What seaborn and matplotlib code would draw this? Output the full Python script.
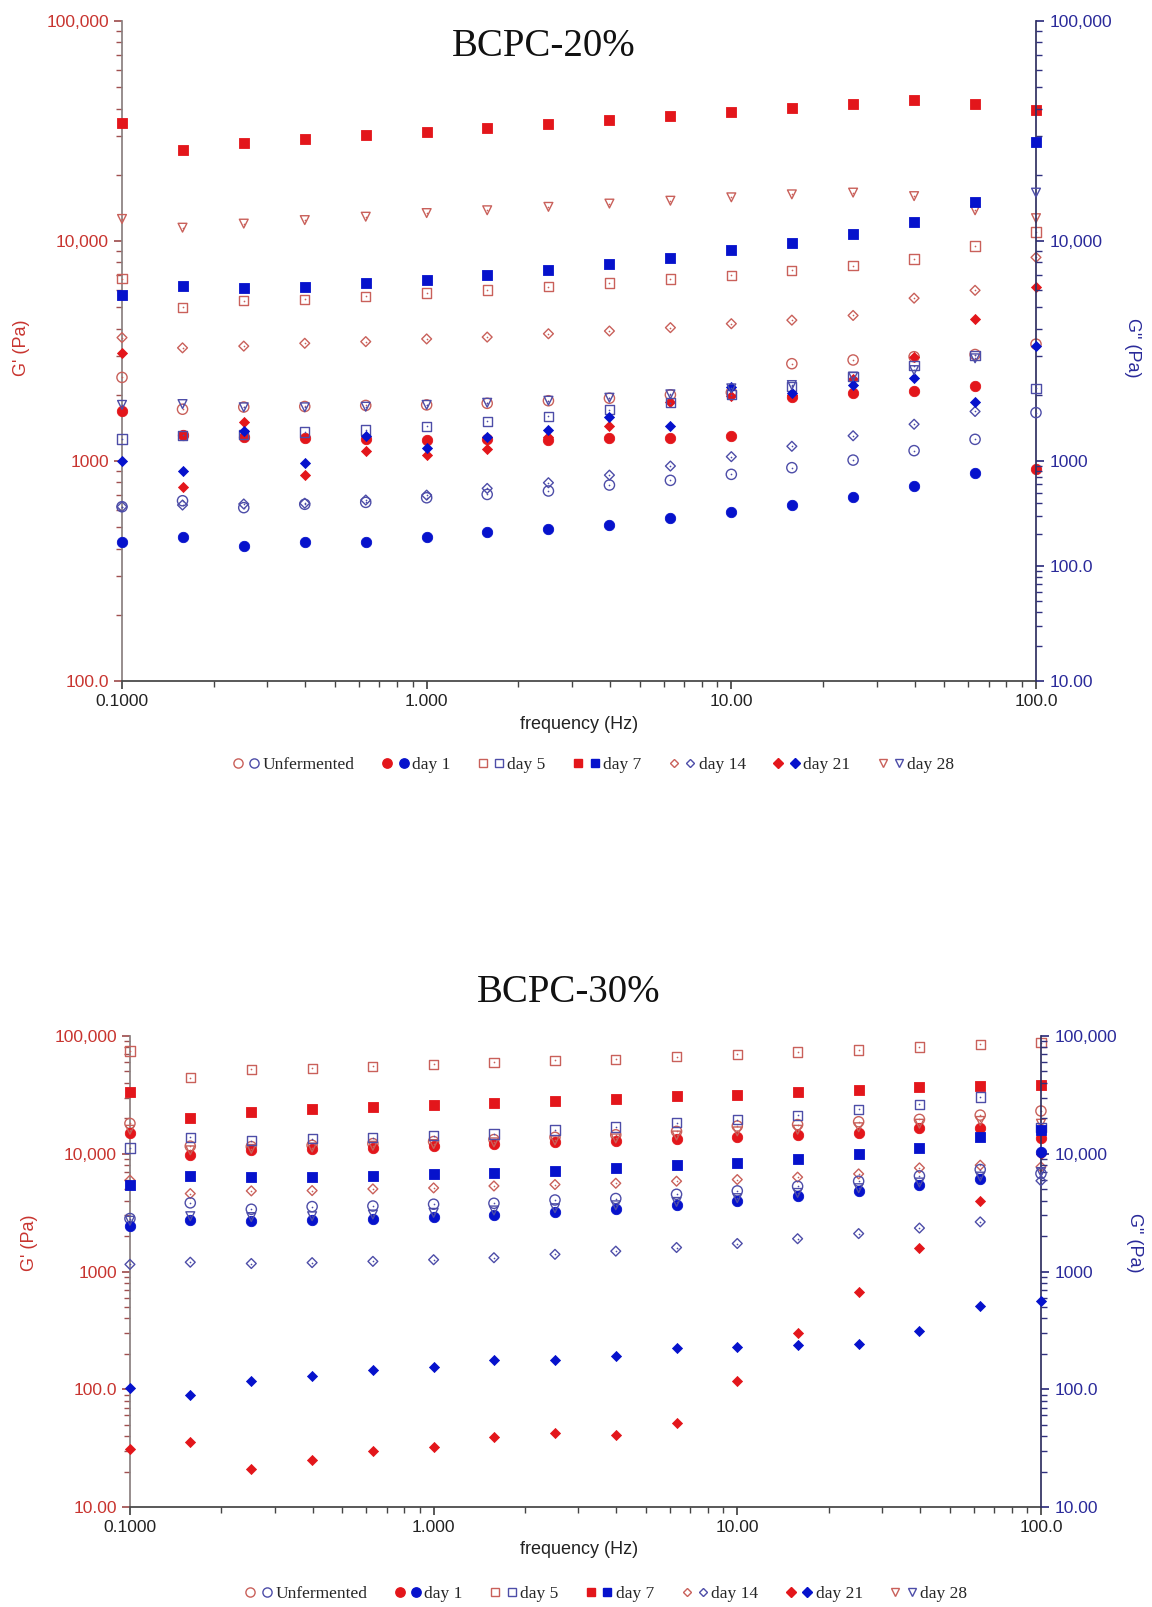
import numpy as np
import pandas as pd
import matplotlib
matplotlib.use("Agg")
import matplotlib.pyplot as plt
import seaborn as sns
from matplotlib.lines import Line2D
from matplotlib.legend_handler import HandlerTuple
from matplotlib.ticker import FixedLocator, NullFormatter, LogLocator

sns.set_theme(style="white")
plt.rcParams['font.family'] = ['Liberation Sans', 'DejaVu Sans']

nan = np.nan
FREQ = [0.1, 0.158, 0.251, 0.398, 0.631, 1.0, 1.58, 2.51, 3.98, 6.31,
        10.0, 15.8, 25.1, 39.8, 63.1, 100.0]
SERIES = ["Unfermented", "day 1", "day 5", "day 7", "day 14", "day 21", "day 28"]

# ---- BCPC-20% : G' (left axis, red) ----
top_g1_unf = [2400, 1720, 1760, 1770, 1790, 1800, 1830, 1880, 1930, 2000, 2050, 2770, 2880, 2980, 3050, 3400]
top_g1_d1 = [1690, 1310, 1280, 1270, 1255, 1245, 1255, 1245, 1270, 1270, 1300, 1960, 2030, 2090, 2190, 920]
top_g1_d5 = [6740, 4990, 5350, 5430, 5620, 5800, 5990, 6200, 6440, 6720, 7000, 7360, 7720, 8280, 9490, 11000]
top_g1_d7 = [34400, 25900, 27800, 29000, 30200, 31400, 32700, 34100, 35500, 37000, 38600, 40400, 42100, 43900, 42100, 39500]
top_g1_d14 = [3640, 3270, 3330, 3430, 3490, 3590, 3660, 3790, 3900, 4040, 4210, 4370, 4590, 5500, 5970, 8430]
top_g1_d21 = [3100, 762, 1500, 861, 1115, 1065, 1130, 1280, 1450, 1850, 1970, 2000, 2350, 2980, 4400, 6160]
top_g1_d28 = [12600, 11500, 12000, 12450, 12900, 13400, 13800, 14300, 14800, 15250, 15800, 16300, 16600, 16000, 13800, 12700]

# ---- BCPC-20% : G'' (right axis, blue; read in axis position units) ----
top_g2_unf = [620, 660, 614, 636, 649, 681, 705, 731, 778, 817, 870, 933, 1010, 1115, 1255, 1660]
top_g2_d1 = [427, 451, 412, 428, 428, 453, 475, 492, 513, 550, 585, 629, 686, 767, 885, nan]
top_g2_d5 = [1260, 1310, 1320, 1355, 1385, 1440, 1515, 1600, 1710, 1840, 2000, 2190, 2420, 2710, 3030, 2140]
top_g2_d7 = [5700, 6270, 6130, 6200, 6420, 6650, 7000, 7360, 7830, 8400, 9100, 9820, 10800, 12150, 15100, 28100]
top_g2_d14 = [620, 631, 638, 643, 665, 700, 751, 797, 863, 949, 1047, 1167, 1303, 1470, 1680, nan]
top_g2_d21 = [1000, 904, 1375, 977, 1300, 1150, 1290, 1390, 1590, 1440, 2160, 2030, 2215, 2380, 1850, 3330]
top_g2_d28 = [1800, 1815, 1755, 1755, 1766, 1800, 1840, 1880, 1940, 2010, 2140, 2215, 2420, 2590, 2930, 16600]

# ---- BCPC-30% : G' ----
bot_g1_unf = [18100, 11600, 11500, 11800, 12200, 12700, 13200, 13800, 14500, 15500, 17200, 17700, 18700, 19600, 21300, 23100]
bot_g1_d1 = [14900, 9860, 10700, 10900, 11300, 11700, 12000, 12500, 12800, 13400, 13900, 14400, 15100, 16400, 16700, 13500]
bot_g1_d5 = [74600, 44200, 52100, 53100, 55200, 57400, 59700, 62100, 63400, 66700, 69800, 73100, 76000, 80600, 84900, 87700]
bot_g1_d7 = [33600, 19950, 22800, 23800, 25000, 25900, 26900, 28200, 29300, 30700, 31700, 33600, 34900, 36800, 37800, 38500]
bot_g1_d14 = [5970, 4590, 4840, 4870, 5030, 5130, 5330, 5480, 5620, 5850, 6040, 6330, 6750, 7590, 8000, 7740]
bot_g1_d21 = [31.2, 35.5, 21.0, 25.1, 30.2, 32.2, 39.7, 42.7, 41.3, 51.5, 117, 298, 675, 1600, 3950, 10000]
bot_g1_d28 = [16000, 10700, 11000, 11300, 11700, 12100, 12500, 13000, 13500, 14300, 15500, 16000, 16800, 18000, 19000, 18000]

# ---- BCPC-30% : G'' ----
bot_g2_unf = [2820, 3830, 3380, 3560, 3600, 3730, 3800, 4050, 4170, 4530, 4840, 5300, 5850, 6490, 7350, 6800]
bot_g2_d1 = [2460, 2720, 2670, 2720, 2820, 2910, 3050, 3210, 3400, 3650, 3950, 4360, 4810, 5410, 6080, 10400]
bot_g2_d5 = [11200, 13800, 12900, 13400, 13700, 14200, 14700, 15900, 16900, 18300, 19500, 21300, 23800, 26300, 30300, 16800]
bot_g2_d7 = [5480, 6490, 6290, 6330, 6490, 6670, 6840, 7160, 7500, 8000, 8430, 9060, 9980, 11200, 13800, 15900]
bot_g2_d14 = [1150, 1200, 1170, 1190, 1220, 1260, 1310, 1400, 1490, 1600, 1730, 1900, 2100, 2340, 2640, 5900]
bot_g2_d21 = [103, 89.7, 117, 129, 147, 156, 177, 179, 191, 224, 227, 240, 244, 310, 506, 565]
bot_g2_d28 = [2700, 2950, 2900, 2950, 3050, 3150, 3300, 3450, 3650, 3900, 4200, 4650, 5100, 5700, 6400, 7000]

X_TICKS = [0.1, 1, 10, 100]
X_LABELS = ["0.1000", "1.000", "10.00", "100.0"]
TOP_LEFT_TICKS = [100, 1000, 10000, 100000]
TOP_LEFT_LABELS = ["100.0", "1000", "10,000", "100,000"]
TOP_RIGHT_TICKS = [100, 333, 1000, 10000, 100000]
TOP_RIGHT_LABELS = ["10.00", "100.0", "1000", "10,000", "100,000"]
BOT_TICKS = [10, 100, 1000, 10000, 100000]
BOT_LABELS = ["10.00", "100.0", "1000", "10,000", "100,000"]

RED_FILL = "#e3161b"
RED_OPEN = "#c9605a"
BLUE_FILL = "#0612cc"
BLUE_OPEN = "#4d4da8"
RED_TXT = "#c8342f"
BLUE_TXT = "#2a2a9a"

STYLE = {  # marker, filled, size
    "Unfermented": ("o", False, 54),
    "day 1": ("o", True, 56),
    "day 5": ("s", False, 44),
    "day 7": ("s", True, 46),
    "day 14": ("D", False, 25),
    "day 21": ("D", True, 26),
    "day 28": ("v", False, 40),
}


def make_df(lists):
    rows = []
    for name, vals in zip(SERIES, lists):
        for f, v in zip(FREQ, vals):
            rows.append({"freq": f, "value": v, "series": name})
    return pd.DataFrame(rows).dropna()


def draw(ax, df, fill, open_c):
    for name in SERIES:
        sub = df[df.series == name]
        m, filled, s = STYLE[name]
        if filled:
            sns.scatterplot(data=sub, x="freq", y="value", ax=ax, marker=m, s=s,
                            color=fill, edgecolor=fill, linewidth=0.6,
                            clip_on=False, legend=False, zorder=3)
        else:
            sns.scatterplot(data=sub, x="freq", y="value", ax=ax, marker=m, s=s,
                            facecolor="none", edgecolor=open_c, linewidth=1.0,
                            clip_on=False, legend=False, zorder=3)
            sns.scatterplot(data=sub, x="freq", y="value", ax=ax, marker="o", s=1.5,
                            color=open_c, linewidth=0, clip_on=False,
                            legend=False, zorder=3)


def style_axes(ax, ax2):
    ax.set_xscale("log")
    ax.set_xlim(0.1, 100)
    ax.set_xticks(X_TICKS, X_LABELS)
    ax.xaxis.set_minor_locator(LogLocator(base=10, subs=np.arange(2, 10)))
    ax.xaxis.set_minor_formatter(NullFormatter())
    for a in (ax, ax2):
        for sp in a.spines.values():
            sp.set_visible(False)
    ax.spines["left"].set_visible(True)
    ax.spines["left"].set_color("#8a8080")
    ax.spines["bottom"].set_visible(True)
    ax.spines["bottom"].set_color("#444444")
    ax2.spines["right"].set_visible(True)
    ax2.spines["right"].set_color("#303060")
    ax.tick_params(axis="x", which="both", direction="out", bottom=True,
                   colors="#444444", labelcolor="#222222", labelsize=12.5)
    ax.tick_params(axis="x", which="major", length=6)
    ax.tick_params(axis="x", which="minor", length=4)
    ax.tick_params(axis="y", which="both", direction="out", left=True,
                   colors="#a05050", labelcolor=RED_TXT, labelsize=12.5)
    ax.tick_params(axis="y", which="major", length=6)
    ax.tick_params(axis="y", which="minor", length=4)
    ax2.tick_params(axis="y", which="both", direction="out", right=True,
                    colors="#303080", labelcolor=BLUE_TXT, labelsize=12.5)
    ax2.tick_params(axis="y", which="major", length=6)
    ax2.tick_params(axis="y", which="minor", length=4)
    ax.set_xlabel("")
    ax.set_ylabel("")
    ax2.set_ylabel("")
    ax.grid(False)
    ax2.grid(False)


fig = plt.figure(figsize=(11.52, 16.07), dpi=100)

# ---------------- top panel ----------------
ax_t = fig.add_axes([0.1059, 0.5762, 0.7934, 0.4107])
ax_t2 = ax_t.twinx()
for a in (ax_t, ax_t2):
    a.set_xscale("log")
    a.set_yscale("log")
draw(ax_t, make_df([top_g1_unf, top_g1_d1, top_g1_d5, top_g1_d7, top_g1_d14, top_g1_d21, top_g1_d28]),
     RED_FILL, RED_OPEN)
draw(ax_t2, make_df([top_g2_unf, top_g2_d1, top_g2_d5, top_g2_d7, top_g2_d14, top_g2_d21, top_g2_d28]),
     BLUE_FILL, BLUE_OPEN)
style_axes(ax_t, ax_t2)
ax_t.set_ylim(100, 100000)
ax_t2.set_ylim(100, 100000)
ax_t.set_yticks(TOP_LEFT_TICKS, TOP_LEFT_LABELS)
ax_t.yaxis.set_minor_locator(LogLocator(base=10, subs=np.arange(2, 10)))
ax_t.yaxis.set_minor_formatter(NullFormatter())
ax_t2.set_yticks(TOP_RIGHT_TICKS, TOP_RIGHT_LABELS)
minors = []
for k in range(2, 10):
    minors.append(1000 * k)
    minors.append(10000 * k)
    minors.append(333 * (1000 / 333) ** np.log10(k))
    minors.append(100 * (333 / 100) ** np.log10(k))
ax_t2.yaxis.set_minor_locator(FixedLocator(minors))
ax_t2.yaxis.set_minor_formatter(NullFormatter())
fig.text(0.5026, 1 - 724 / 1607, "frequency (Hz)", ha="center", va="center", fontsize=13, color="#222222")
fig.text(0.019, 1 - 348 / 1607, "G' (Pa)", ha="center", va="center", rotation=90, fontsize=13, color=RED_TXT)
fig.text(0.983, 1 - 348 / 1607, 'G" (Pa)', ha="center", va="center", rotation=270, fontsize=13, color=BLUE_TXT)

# ---------------- bottom panel ----------------
ax_b = fig.add_axes([0.1128, 0.0622, 0.7908, 0.2931])
ax_b2 = ax_b.twinx()
for a in (ax_b, ax_b2):
    a.set_xscale("log")
    a.set_yscale("log")
draw(ax_b, make_df([bot_g1_unf, bot_g1_d1, bot_g1_d5, bot_g1_d7, bot_g1_d14, bot_g1_d21, bot_g1_d28]),
     RED_FILL, RED_OPEN)
draw(ax_b2, make_df([bot_g2_unf, bot_g2_d1, bot_g2_d5, bot_g2_d7, bot_g2_d14, bot_g2_d21, bot_g2_d28]),
     BLUE_FILL, BLUE_OPEN)
style_axes(ax_b, ax_b2)
for a in (ax_b, ax_b2):
    a.set_ylim(10, 100000)
    a.set_yticks(BOT_TICKS, BOT_LABELS)
    a.yaxis.set_minor_locator(LogLocator(base=10, subs=np.arange(2, 10)))
    a.yaxis.set_minor_formatter(NullFormatter())
fig.text(0.5026, 1 - 1550 / 1607, "frequency (Hz)", ha="center", va="center", fontsize=13, color="#222222")
fig.text(0.026, 1 - 1243 / 1607, "G' (Pa)", ha="center", va="center", rotation=90, fontsize=13, color=RED_TXT)
fig.text(0.985, 1 - 1243 / 1607, 'G" (Pa)', ha="center", va="center", rotation=270, fontsize=13, color=BLUE_TXT)

# ---------------- titles ----------------
fig.text(0.472, 1 - 46 / 1607, "BCPC-20%", ha="center", va="center",
         fontsize=28, family=["Liberation Serif", "DejaVu Serif"], color="#111111")
fig.text(0.494, 1 - 992 / 1607, "BCPC-30%", ha="center", va="center",
         fontsize=28, family=["Liberation Serif", "DejaVu Serif"], color="#111111")

# ---------------- legends ----------------
handles = []
for name in SERIES:
    m, filled, s = STYLE[name]
    ms = np.sqrt(s) * 0.9
    r = Line2D([], [], marker=m, linestyle="none", markersize=ms,
               markerfacecolor=RED_FILL if filled else "none",
               markeredgecolor=RED_FILL if filled else RED_OPEN, markeredgewidth=1.0)
    b = Line2D([], [], marker=m, linestyle="none", markersize=ms,
               markerfacecolor=BLUE_FILL if filled else "none",
               markeredgecolor=BLUE_FILL if filled else BLUE_OPEN, markeredgewidth=1.0)
    handles.append((r, b))

for ycen, xcen in [(1 - 765 / 1607, 0.515), (1 - 1594 / 1607, 0.526)]:
    fig.legend(handles=handles, labels=SERIES, loc="center", bbox_to_anchor=(xcen, ycen),
               ncol=7, frameon=False, handler_map={tuple: HandlerTuple(ndivide=None, pad=0.3)},
               prop={"family": ["Liberation Serif", "DejaVu Serif"], "size": 12.5},
               handlelength=1.6, handletextpad=0.15, columnspacing=1.55)

fig.savefig("out.png", dpi=100, facecolor="white")
